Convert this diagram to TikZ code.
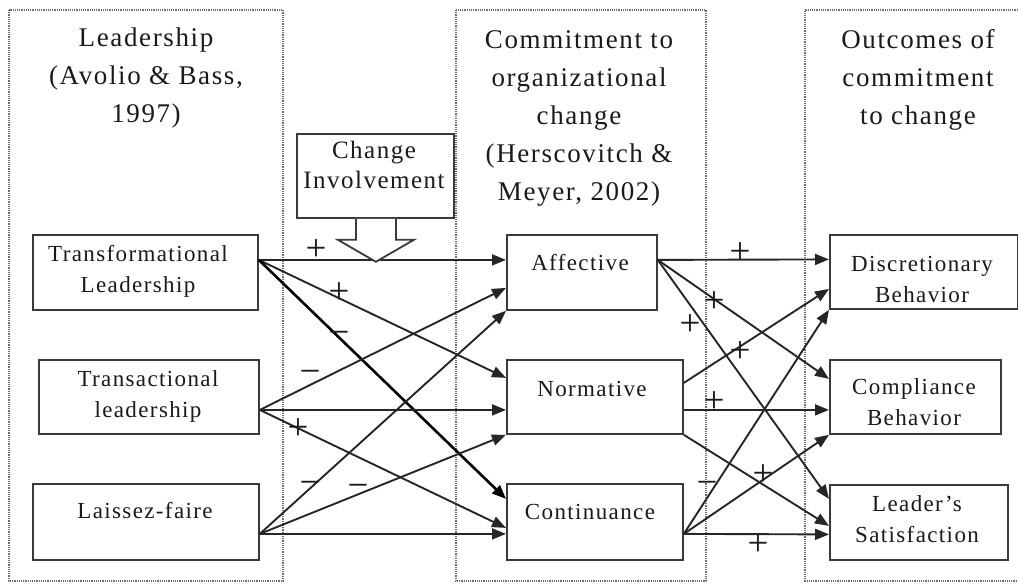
\documentclass[tikz,border=0pt]{standalone}
\usepackage{fontspec}
\setmainfont{Liberation Serif}
\newfontfamily\headfont[LetterSpace=6]{Liberation Serif}
\newfontfamily\boxfont[LetterSpace=6]{Liberation Serif}
\usetikzlibrary{arrows.meta,calc}

\definecolor{ink}{HTML}{1A1A1A}
\definecolor{frame}{HTML}{3A3A3A}
\definecolor{dots}{HTML}{6E6E6E}
\definecolor{wire}{HTML}{262626}

\begin{document}
\begin{tikzpicture}[x=1pt,y=-1pt,
  group/.style={draw=dots, densely dotted, line width=1.2pt},
  box/.style={draw=frame, fill=white, line width=1.8pt, inner sep=0pt, anchor=north west},
  htext/.style={font={\headfont\fontsize{27}{38}\selectfont}, align=center, inner sep=0pt, text=ink, anchor=base},
  btext/.style={font={\boxfont\fontsize{23}{31}\selectfont}, align=center, inner sep=0pt, text=ink, anchor=base},
  link/.style={draw=wire, line width=1.9pt, -{Triangle[length=14pt,width=11pt]}},
  heavy/.style={link, draw=black, line width=2.6pt},
  sign/.style={font={\fontsize{37}{37}\selectfont}, inner sep=0pt, text=ink}]
\useasboundingbox (0,0) rectangle (1018,584);

% three dotted column frames
\draw[group] (9,10) rectangle (283,581);
\draw[group] (456,10) rectangle (706,581);
\draw[group] (1020,10) -- (805,10) -- (805,581) -- (1020,581);

% column headings (placed at the baseline of their last line)
\node[htext] (h1) at (146,122) {Leadership\\(Avolio \& Bass,\\1997)};
\node[htext] (h2) at (579,200) {Commitment to\\organizational\\change\\(Herscovitch \&\\Meyer, 2002)};
\node[htext] (h3) at (918,124) {Outcomes of\\commitment\\to change};

% leadership boxes
\node[box, minimum width=225, minimum height=75] (tf) at (32,234) {};
\node[box, minimum width=220, minimum height=74] (ts) at (38,359) {};
\node[box, minimum width=226, minimum height=76] (lf) at (32,483) {};
% commitment boxes
\node[box, minimum width=150, minimum height=75] (af) at (506,234) {};
\node[box, minimum width=176, minimum height=74] (nm) at (506,359) {};
\node[box, minimum width=176, minimum height=76] (ct) at (506,483) {};
% outcome boxes
\node[box, minimum width=188, minimum height=74] (dc) at (829,234) {};
\node[box, minimum width=171, minimum height=74] (cp) at (829,359) {};
\node[box, minimum width=178, minimum height=75] (ls) at (829,484) {};

% box texts
\node[btext] (tft) at (138,292) {Transformational\\Leadership};
\node[btext] (tst) at (148,417) {Transactional\\leadership};
\node[btext] (lft) at (145,518) {Laissez-faire};
\node[btext] (aft) at (580,270) {Affective};
\node[btext] (nmt) at (592,396) {Normative};
\node[btext] (ctt) at (590,519) {Continuance};
\node[btext] (dct) at (922,302) {Discretionary\\Behavior};
\node[btext] (cpt) at (914,425) {Compliance\\Behavior};
\node[btext] (lst) at (917,542) {Leader’s\\Satisfaction};

% leadership -> commitment
\draw[link]  ([yshift=12.5pt]tf.east) -- ([yshift=12.5pt]af.west);
\draw[link]  ([yshift=12.5pt]tf.east) -- ([yshift=19pt]nm.west);
\draw[heavy] ([yshift=12.5pt]tf.east) -- ([yshift=23pt]ct.west);
\draw[link]  ([yshift=-13pt]ts.east) -- ([yshift=-15.5pt]af.west);
\draw[link]  ([yshift=-13pt]ts.east) -- ([yshift=-13pt]nm.west);
\draw[link]  ([yshift=-13pt]ts.east) -- ([yshift=-6pt]ct.west);
\draw[link]  ([yshift=-12pt]lf.east) -- (af.south west);
\draw[link]  ([yshift=-12pt]lf.east) -- (nm.south west);
\draw[link]  ([yshift=-12pt]lf.east) -- ([yshift=-12pt]ct.west);

% commitment -> outcomes
\draw[link] ([yshift=12.5pt]af.east) -- ([yshift=12.5pt]dc.west);
\draw[link] ([yshift=12.5pt]af.east) -- ([yshift=18pt]cp.west);
\draw[link] ([yshift=12.5pt]af.east) -- ([yshift=23.5pt]ls.west);
\draw[link] ([yshift=14pt]nm.east) -- ([yshift=-17pt]dc.west);
\draw[link] ([yshift=-13pt]nm.east) -- ([yshift=-13pt]cp.west);
\draw[link] (nm.south east) -- ([yshift=-3.5pt]ls.west);
\draw[link] ([yshift=-12pt]ct.east) -- (dc.south west);
\draw[link] ([yshift=-12pt]ct.east) -- (cp.south west);
\draw[link] ([yshift=-12pt]ct.east) -- ([yshift=-12pt]ls.west);

% moderator callout
\node[box, minimum width=157, minimum height=84] (ci) at (296,133) {};
\node[btext, font={\boxfont\fontsize{25}{30}\selectfont}] (cit) at (374,188) {Change\\Involvement};
\draw[draw=frame, fill=white, line width=1.8pt, line join=miter]
  ([xshift=-19.5pt]ci.south) -- ++(0,21) -- ++(-18,0) -- ++(38,22)
  -- ++(38,-22) -- ++(-18,0) -- ++(0,-21);

% signs of the paths
\node[sign] (s1) at (316,250) {+};
\node[sign] (s2) at (339,293) {+};
\node[sign] (s3) at (339,338) {−};
\node[sign] (s4) at (310,377) {−};
\node[sign] (s5) at (298,429) {+};
\node[sign] (s6) at (310,488) {−};
\node[sign] (s7) at (358,491) {−};
\node[sign] (s8) at (740,253) {+};
\node[sign] (s9) at (714,302) {+};
\node[sign] (s10) at (690,325) {+};
\node[sign] (s11) at (740,352) {+};
\node[sign] (s12) at (714,402) {+};
\node[sign] (s13) at (763,475) {+};
\node[sign] (s14) at (707,488) {−};
\node[sign] (s15) at (758,545) {+};
\end{tikzpicture}
\end{document}
